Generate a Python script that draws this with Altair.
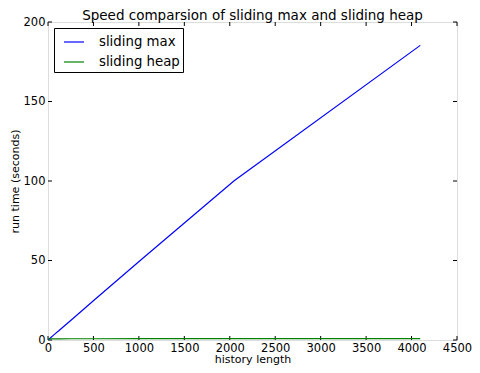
import altair as alt
import pandas as pd

history = [1, 2, 4, 8, 16, 32, 64, 128, 256, 512, 1024, 2048, 4096]
sliding_max = [0.05, 0.1, 0.2, 0.4, 0.8, 1.6, 3.2, 6.3, 12.6, 25.3, 50.5, 100.2, 185.3]
sliding_heap = [0.7, 0.7, 0.7, 0.7, 0.7, 0.72, 0.74, 0.76, 0.78, 0.8, 0.82, 0.84, 0.86]
series_names = ["sliding max", "sliding heap"]
series_colors = ["#0000ff", "#008000"]
x_ticks = [0, 500, 1000, 1500, 2000, 2500, 3000, 3500, 4000, 4500]
y_ticks = [0, 50, 100, 150, 200]

W, H = 409, 318
FONT = "DejaVu Sans"

rows = []
for h, a, b in zip(history, sliding_max, sliding_heap):
    rows.append({"history": h, "time": a, "series": series_names[0]})
    rows.append({"history": h, "time": b, "series": series_names[1]})
df = pd.DataFrame(rows)

xscale = alt.Scale(domain=[0, 4500], nice=False, zero=False)
yscale = alt.Scale(domain=[0, 200], nice=False, zero=False)

lines = alt.Chart(df).mark_line(strokeWidth=1.2, clip=True).encode(
    x=alt.X("history:Q", scale=xscale, title="history length",
            axis=alt.Axis(values=x_ticks, format="d", ticks=False, domain=False, grid=False,
                          labelFontSize=11.5, labelFont=FONT, labelColor="black",
                          labelPadding=2, titleFont=FONT, titleFontSize=11,
                          titleFontWeight="normal", titleColor="black", titlePadding=0,
                          labelFlush=False)),
    y=alt.Y("time:Q", scale=yscale, title="run time (seconds)",
            axis=alt.Axis(values=y_ticks, format="d", ticks=False, domain=False, grid=False,
                          labelFontSize=11.5, labelFont=FONT, labelColor="black",
                          labelPadding=3, titleFont=FONT, titleFontSize=11,
                          titleFontWeight="normal", titleColor="black", titlePadding=3,
                          labelFlush=False)),
    color=alt.Color("series:N",
                    scale=alt.Scale(domain=series_names, range=series_colors),
                    sort=series_names,
                    legend=alt.Legend(title=None, orient="none", legendX=6, legendY=6,
                                      strokeColor="black", fillColor="white",
                                      padding=3, symbolOffset=6, symbolType="stroke",
                                      symbolSize=400, symbolStrokeWidth=1.2, labelFont=FONT,
                                      labelFontSize=13.3, labelColor="black",
                                      labelOffset=14, rowPadding=2, cornerRadius=0)),
)

xt = pd.DataFrame({"v": x_ticks})
yt = pd.DataFrame({"v": y_ticks})
tick_len = 4
bottom = alt.Chart(xt).mark_rule(color="black", strokeWidth=1).encode(
    x=alt.X("v:Q", scale=xscale), y=alt.value(H), y2=alt.value(H - tick_len))
top = alt.Chart(xt).mark_rule(color="black", strokeWidth=1).encode(
    x=alt.X("v:Q", scale=xscale), y=alt.value(0), y2=alt.value(tick_len))
left = alt.Chart(yt).mark_rule(color="black", strokeWidth=1).encode(
    y=alt.Y("v:Q", scale=yscale), x=alt.value(0), x2=alt.value(tick_len))
right = alt.Chart(yt).mark_rule(color="black", strokeWidth=1).encode(
    y=alt.Y("v:Q", scale=yscale), x=alt.value(W), x2=alt.value(W - tick_len))

chart = alt.layer(bottom, top, left, right, lines).properties(
    width=W, height=H,
    title=alt.Title("Speed comparsion of sliding max and sliding heap",
                    font=FONT, fontSize=13.5, fontWeight="normal", color="black",
                    anchor="middle", offset=2, frame="group", dy=8),
    autosize=alt.AutoSizeParams(type="none"),
    padding={"left": 40, "top": 14, "right": 15, "bottom": 25},
).configure_view(stroke="black", strokeWidth=1).configure(background="white")

chart.save("out.html", embed_options={"renderer": "svg", "actions": False})
